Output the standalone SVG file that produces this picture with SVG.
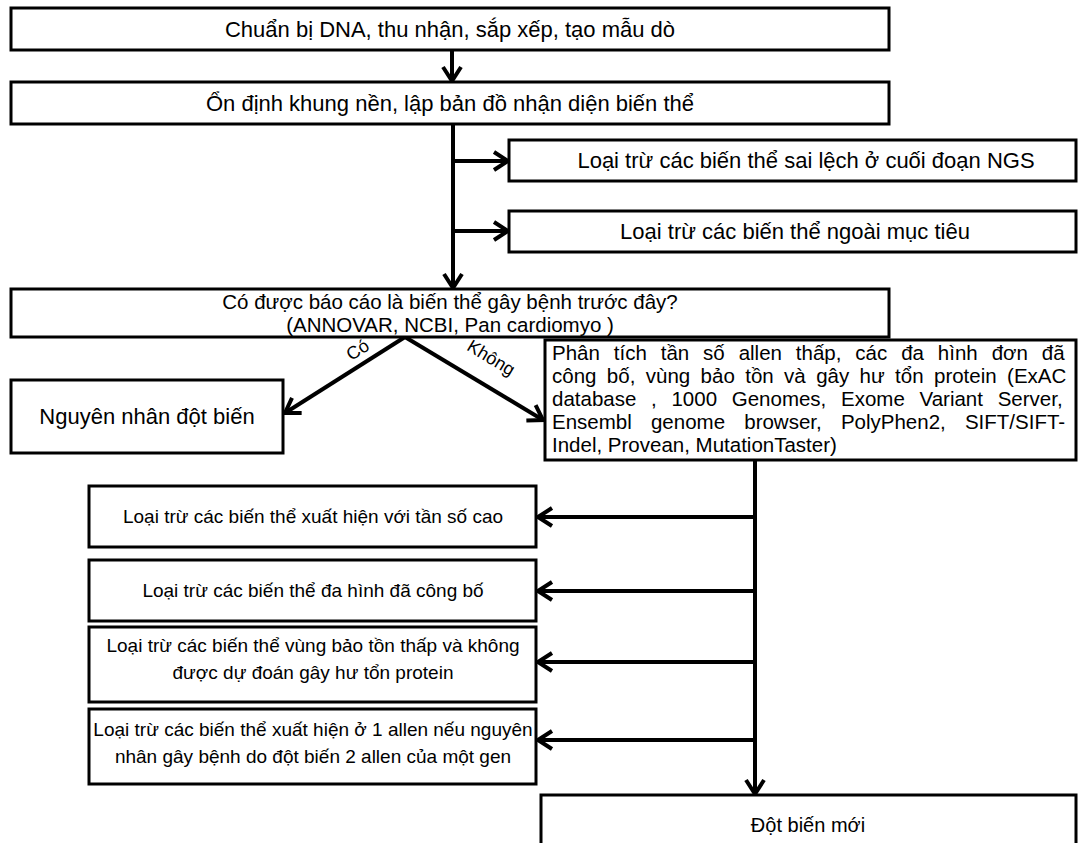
<svg xmlns="http://www.w3.org/2000/svg" width="1088" height="843" viewBox="0 0 1088 843">
<style>
.box{fill:#fff;stroke:#000;stroke-width:3}
.t{font-family:"Liberation Sans",Arial,sans-serif;font-size:22px;fill:#000;text-anchor:middle}
.s{font-size:19px}
.m{font-size:20.5px}
.p{font-family:"Liberation Sans",Arial,sans-serif;font-size:20.5px;fill:#000}
.lbl{font-family:"Liberation Sans",Arial,sans-serif;font-size:18px;fill:#000;text-anchor:middle}
.c{stroke:#000;stroke-width:4;fill:none;marker-end:url(#ah)}
.l{stroke:#000;stroke-width:4;fill:none}
</style>
<defs>
<marker id="ah" markerUnits="userSpaceOnUse" viewBox="0 0 22 22" markerWidth="22" markerHeight="22" refX="19" refY="11" orient="auto">
<path d="M5,2 L19,11 L5,20" fill="none" stroke="#000" stroke-width="4"/>
</marker>
</defs>
<rect width="1088" height="843" fill="#fff"/>
<g id="connectors">
<line class="c" x1="452" y1="50" x2="452" y2="81"/>
<line class="c" x1="453" y1="124" x2="453" y2="288"/>
<line class="c" x1="453" y1="161" x2="508" y2="161"/>
<line class="c" x1="453" y1="231" x2="508" y2="231"/>
<line class="c" x1="405" y1="337" x2="285" y2="413"/>
<line class="c" x1="405" y1="337" x2="543" y2="420"/>
<line class="l" x1="755" y1="460" x2="755" y2="740"/>
<line class="c" x1="755" y1="740" x2="755" y2="794"/>
<line class="c" x1="755" y1="517" x2="538" y2="517"/>
<line class="c" x1="755" y1="591" x2="538" y2="591"/>
<line class="c" x1="755" y1="662" x2="538" y2="662"/>
<line class="c" x1="755" y1="740" x2="538" y2="740"/>
<text class="lbl" transform="translate(361,355) rotate(-33)">Có</text>
<text class="lbl" transform="translate(488,363) rotate(31)">Không</text>
</g>
<g id="n1"><rect class="box" x="11" y="8" width="878" height="42"/><text class="t" x="450" y="37">Chuẩn bị DNA, thu nhận, sắp xếp, tạo mẫu dò</text></g>
<g id="n2"><rect class="box" x="11" y="82" width="878" height="42"/><text class="t" x="450" y="111">Ổn định khung nền, lập bản đồ nhận diện biến thể</text></g>
<g id="n3"><rect class="box" x="509" y="140" width="567" height="41"/><text class="t" x="806" y="168">Loại trừ các biến thể sai lệch ở cuối đoạn NGS</text></g>
<g id="n4"><rect class="box" x="509" y="211" width="567" height="41"/><text class="t" x="795" y="239">Loại trừ các biến thể ngoài mục tiêu</text></g>
<g id="n5"><rect class="box" x="11" y="289" width="878" height="48"/><text class="t m" x="450" y="309">Có được báo cáo là biến thể gây bệnh trước đây?</text><text class="t m" x="450" y="332">(ANNOVAR, NCBI, Pan cardiomyo )</text></g>
<g id="n6"><rect class="box" x="11" y="380" width="272" height="73"/><text class="t" x="147" y="424">Nguyên nhân đột biến</text></g>
<g id="n7"><rect class="box" x="545" y="340" width="531" height="120"/>
<text class="p" x="552" y="360" word-spacing="8.2">Phân tích tần số allen thấp, các đa hình đơn đã</text>
<text class="p" x="552" y="383" word-spacing="4.7">công bố, vùng bảo tồn và gây hư tổn protein (ExAC</text>
<text class="p" x="552" y="406" word-spacing="9">database , 1000 Genomes, Exome Variant Server,</text>
<text class="p" x="552" y="429" word-spacing="13.5">Ensembl genome browser, PolyPhen2, SIFT/SIFT-</text>
<text class="p" x="552" y="452">Indel, Provean, MutationTaster)</text></g>
<g id="n8"><rect class="box" x="89" y="486" width="447" height="61"/><text class="t s" x="313" y="523">Loại trừ các biến thể xuất hiện với tần số cao</text></g>
<g id="n9"><rect class="box" x="89" y="560" width="447" height="61"/><text class="t s" x="313" y="597">Loại trừ các biến thể đa hình đã công bố</text></g>
<g id="n10"><rect class="box" x="89" y="627" width="447" height="75"/><text class="t s" x="313" y="652">Loại trừ các biến thể vùng bảo tồn thấp và không</text><text class="t s" x="313" y="679">được dự đoán gây hư tổn protein</text></g>
<g id="n11"><rect class="box" x="89" y="709" width="447" height="75"/><text class="t s" x="313" y="736">Loại trừ các biến thể xuất hiện ở 1 allen nếu nguyên</text><text class="t s" x="313" y="763">nhân gây bệnh do đột biến 2 allen của một gen</text></g>
<g id="n12"><rect class="box" x="541" y="795" width="535" height="60"/><text class="t" x="808" y="832" style="font-size:20px">Đột biến mới</text></g>
</svg>
